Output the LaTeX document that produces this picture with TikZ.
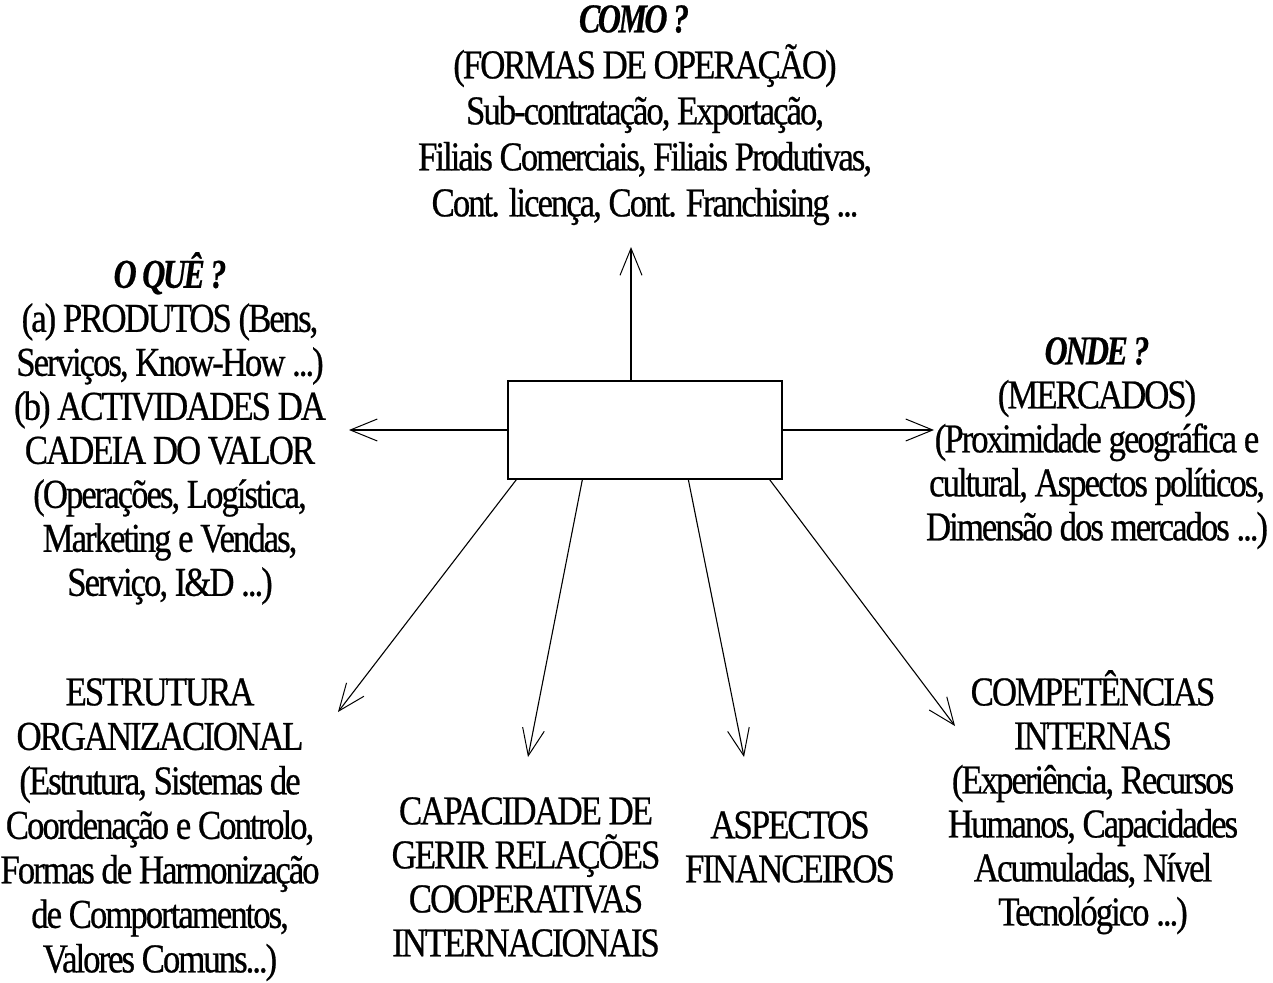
\documentclass[tikz,border=0pt]{standalone}
\usepackage{fontspec}
\setmainfont{Liberation Serif}[FakeStretch=0.85, LetterSpace=-5, FakeBold=0.6,
  BoldItalicFeatures={FakeStretch=0.78, LetterSpace=-6}]
\usetikzlibrary{arrows.meta}
\begin{document}
\begin{tikzpicture}[x=1pt,y=-1pt,
  arr/.style={-{Straight Barb[length=27pt,width=22pt,line width=1pt]}, line width=1.1pt},
  txt/.style={align=center, inner sep=0pt, anchor=north, font=\fontsize{41}{44}\selectfont},
  txtw/.style={txt, font=\fontsize{41}{44.5}\selectfont},
  txtt/.style={txt, font=\fontsize{41}{46}\selectfont}]
\useasboundingbox (0,0) rectangle (1273,982);
\fill[white] (0,0) rectangle (1273,982);
\node[draw, line width=1.3pt, minimum width=274pt, minimum height=98pt, inner sep=0pt] (box) at (645,430) {};

\node[txtt] (como) at (645,5) {\hspace*{-22pt}{\bfseries\itshape COMO ?}\\(FORMAS DE OPERAÇÃO)\\Sub-contratação, Exportação,\\Filiais Comerciais, Filiais Produtivas,\\Cont. licença, Cont. Franchising ...};
\node[txt] (oque) at (170,252) {{\bfseries\itshape O QUÊ ?}\\(a) PRODUTOS (Bens,\\Serviços, Know-How ...)\\(b) ACTIVIDADES DA\\CADEIA DO VALOR\\(Operações, Logística,\\Marketing e Vendas,\\Serviço, I\&D ...)};
\node[txt] (onde) at (1097,337) {{\bfseries\itshape ONDE ?}\\(MERCADOS)\\(Proximidade geográfica e\\cultural, Aspectos políticos,\\Dimensão dos mercados ...)};
\node[txtw] (estr) at (160,678) {ESTRUTURA\\ORGANIZACIONAL\\(Estrutura, Sistemas de\\Coordenação e Controlo,\\Formas de Harmonização\\de Comportamentos,\\Valores Comuns...)};
\node[txt] (capa) at (526,797) {CAPACIDADE DE\\GERIR RELAÇÕES\\COOPERATIVAS\\INTERNACIONAIS};
\node[txt] (fin) at (790,811) {ASPECTOS\\FINANCEIROS};
\node[txt] (comp) at (1093,670) {COMPETÊNCIAS\\INTERNAS\\(Experiência, Recursos\\Humanos, Capacidades\\Acumuladas, Nível\\Tecnológico ...)};

\coordinate (tu) at (631,247);
\coordinate (tl) at (349,430);
\coordinate (tr) at (934,430);
\coordinate (t1) at (338,712);
\coordinate (t2) at (528,757);
\coordinate (t3) at (744,757);
\coordinate (t4) at (955,726);

\draw[arr] (box.north -| tu) -- (tu);
\draw[arr] (box.west) -- (tl);
\draw[arr] (box.east) -- (tr);
\draw[arr] ([xshift=9pt]box.south west) -- (t1);
\draw[arr] ([xshift=75pt]box.south west) -- (t2);
\draw[arr] ([xshift=181pt]box.south west) -- (t3);
\draw[arr] ([xshift=-13pt]box.south east) -- (t4);
\end{tikzpicture}
\end{document}
